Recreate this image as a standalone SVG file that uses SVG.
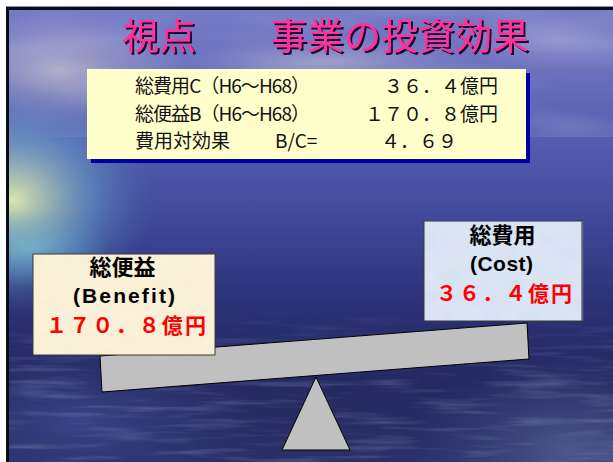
<svg xmlns="http://www.w3.org/2000/svg" width="613" height="462" viewBox="0 0 613 462">
  <defs>
    <style>
      .jp { font-family: "Noto Sans CJK JP", "Noto Sans", sans-serif; }
      .latin { font-family: "Liberation Sans", Arial, sans-serif; }
      .title { font-size: 37px; fill: #FF3399; }
      .row { font-size: 19px; fill: #111111; }
      .head { font-size: 22px; font-weight: bold; fill: #000000; }
      .sub { font-size: 21px; font-weight: bold; fill: #000000; }
      .amount { font-size: 21px; font-weight: bold; fill: #FF0000; }
      .plate { fill: #C0C0C0; stroke: #000000; stroke-width: 1; stroke-linejoin: round; }
    </style>

    <!-- sea and sky backdrop -->
    <linearGradient id="sky" x1="0" y1="10" x2="0" y2="462" gradientUnits="userSpaceOnUse">
      <stop offset="0" stop-color="#757AC4"/>
      <stop offset="0.12" stop-color="#6C72BE"/>
      <stop offset="0.32" stop-color="#5059AC"/>
      <stop offset="0.5" stop-color="#3B4494"/>
      <stop offset="0.66" stop-color="#2B3074"/>
      <stop offset="0.82" stop-color="#252962"/>
      <stop offset="1" stop-color="#2A3068"/>
    </linearGradient>
    <radialGradient id="glowLeft" cx="12" cy="200" r="170" gradientUnits="userSpaceOnUse" gradientTransform="translate(12 200) scale(0.85 0.7) translate(-12 -200)">
      <stop offset="0" stop-color="#E2EEB0" stop-opacity="0.95"/>
      <stop offset="0.25" stop-color="#B4D4B8" stop-opacity="0.75"/>
      <stop offset="0.55" stop-color="#70AECA" stop-opacity="0.5"/>
      <stop offset="1" stop-color="#4A70B0" stop-opacity="0"/>
    </radialGradient>
    <radialGradient id="glowTeal" cx="30" cy="248" r="80" gradientUnits="userSpaceOnUse" gradientTransform="translate(30 248) scale(1 0.5) translate(-30 -248)">
      <stop offset="0" stop-color="#78C4D8" stop-opacity="0.6"/>
      <stop offset="1" stop-color="#5A98C8" stop-opacity="0"/>
    </radialGradient>
    <radialGradient id="cloudA" cx="60" cy="70" r="130" gradientUnits="userSpaceOnUse" gradientTransform="translate(60 70) scale(1 0.45) translate(-60 -70)">
      <stop offset="0" stop-color="#C8C2CC" stop-opacity="0.75"/>
      <stop offset="1" stop-color="#9A9CC8" stop-opacity="0"/>
    </radialGradient>
    <radialGradient id="cloudB" cx="330" cy="62" r="150" gradientUnits="userSpaceOnUse" gradientTransform="translate(330 62) scale(1 0.18) translate(-330 -62)">
      <stop offset="0" stop-color="#B4B0D0" stop-opacity="0.7"/>
      <stop offset="1" stop-color="#9A9CC8" stop-opacity="0"/>
    </radialGradient>
    <radialGradient id="cloudC" cx="560" cy="40" r="110" gradientUnits="userSpaceOnUse" gradientTransform="translate(560 40) scale(1 0.3) translate(-560 -40)">
      <stop offset="0" stop-color="#A8A8D8" stop-opacity="0.55"/>
      <stop offset="1" stop-color="#9A9CC8" stop-opacity="0"/>
    </radialGradient>
    <radialGradient id="seaRight" cx="570" cy="450" r="160" gradientUnits="userSpaceOnUse" gradientTransform="translate(570 450) scale(1 0.6) translate(-570 -450)">
      <stop offset="0" stop-color="#6E78A8" stop-opacity="0.55"/>
      <stop offset="1" stop-color="#4A5590" stop-opacity="0"/>
    </radialGradient>
    <radialGradient id="seaLeft" cx="80" cy="420" r="170" gradientUnits="userSpaceOnUse" gradientTransform="translate(80 420) scale(1 0.45) translate(-80 -420)">
      <stop offset="0" stop-color="#4C5CA8" stop-opacity="0.5"/>
      <stop offset="1" stop-color="#3A4890" stop-opacity="0"/>
    </radialGradient>
    <linearGradient id="waveFade" x1="0" y1="300" x2="0" y2="462" gradientUnits="userSpaceOnUse">
      <stop offset="0" stop-color="#FFFFFF" stop-opacity="0"/>
      <stop offset="0.4" stop-color="#FFFFFF" stop-opacity="1"/>
      <stop offset="1" stop-color="#FFFFFF" stop-opacity="1"/>
    </linearGradient>
    <mask id="waveMask">
      <rect x="0" y="300" width="613" height="162" fill="url(#waveFade)"/>
    </mask>
    <filter id="waves" x="0" y="0" width="100%" height="100%">
      <feTurbulence type="fractalNoise" baseFrequency="0.012 0.16" numOctaves="3" seed="7"/>
      <feColorMatrix type="matrix" values="0 0 0 0 0.5  0 0 0 0 0.54  0 0 0 0 0.78  0 0 0 1.4 -0.68"/>
    </filter>
    <filter id="haze" x="0" y="0" width="100%" height="100%">
      <feTurbulence type="fractalNoise" baseFrequency="0.006 0.03" numOctaves="2" seed="3"/>
      <feColorMatrix type="matrix" values="0 0 0 0 0.78  0 0 0 0 0.78  0 0 0 0 0.9  0 0 0 0.9 -0.38"/>
    </filter>
    <filter id="paper" x="0" y="0" width="100%" height="100%">
      <feTurbulence type="fractalNoise" baseFrequency="0.09" numOctaves="2" seed="11"/>
      <feColorMatrix type="matrix" values="0 0 0 0 0.85  0 0 0 0 0.78  0 0 0 0 0.6  0 0 0 0.5 -0.18"/>
    </filter>
    <filter id="frost" x="0" y="0" width="100%" height="100%">
      <feTurbulence type="fractalNoise" baseFrequency="0.05" numOctaves="2" seed="5"/>
      <feColorMatrix type="matrix" values="0 0 0 0 0.9  0 0 0 0 0.86  0 0 0 0 0.96  0 0 0 0.5 -0.15"/>
    </filter>
    <filter id="titleShadow" x="-5%" y="-20%" width="110%" height="140%">
      <feDropShadow dx="2" dy="2" stdDeviation="0" flood-color="#1A0030" flood-opacity="1"/>
    </filter>
  </defs>

  <!-- page margin and slide frame -->
  <rect x="0" y="0" width="613" height="462" fill="#FFFFFF"/>
  <g id="backdrop">
    <rect x="6" y="7" width="607" height="455" fill="url(#sky)"/>
    <rect x="6" y="7" width="607" height="130" fill="#FFFFFF" opacity="0.5" filter="url(#haze)"/>
    <rect x="6" y="7" width="607" height="455" fill="url(#cloudA)"/>
    <rect x="6" y="7" width="607" height="455" fill="url(#cloudB)"/>
    <rect x="6" y="7" width="607" height="455" fill="url(#cloudC)"/>
    <rect x="6" y="7" width="607" height="455" fill="url(#glowLeft)"/>
    <rect x="6" y="7" width="607" height="455" fill="url(#glowTeal)"/>
    <rect x="6" y="7" width="607" height="455" fill="url(#seaLeft)"/>
    <rect x="6" y="7" width="607" height="455" fill="url(#seaRight)"/>
    <rect x="6" y="300" width="607" height="162" filter="url(#waves)" mask="url(#waveMask)" opacity="0.4"/>
    <!-- frame edges -->
    <rect x="6" y="6" width="607" height="1" fill="#8C8CC8"/>
    <rect x="6" y="7" width="607" height="3" fill="#0A0A14"/>
    <rect x="6" y="7" width="3" height="455" fill="#0A0A14"/>
  </g>

  <!-- heading -->
  <g id="title" class="jp">
    <text class="title" x="122" y="50" filter="url(#titleShadow)" xml:space="preserve">視点　　事業の投資効果</text>
  </g>

  <!-- cost / benefit summary -->
  <g id="summary-table" class="jp">
    <rect x="91" y="73" width="439" height="90" fill="#0000A0"/>
    <rect x="87" y="69" width="439" height="90" fill="#FFFFCC"/>
    <text class="row" x="135" y="93" textLength="175" lengthAdjust="spacing">総費用C（H6～H68）</text>
    <text class="row" x="384" y="93">３６．４億円</text>
    <text class="row" x="135" y="121" textLength="175" lengthAdjust="spacing">総便益B（H6～H68）</text>
    <text class="row" x="365" y="121">１７０．８億円</text>
    <text class="row" x="135" y="148">費用対効果</text>
    <text class="row" x="275" y="148">B/C=</text>
    <text class="row" x="381" y="148">４．６９</text>
  </g>

  <!-- balance beam -->
  <g id="beam">
    <polygon class="plate" points="100,356 527,323 529,359 102,392"/>
  </g>

  <!-- fulcrum -->
  <g id="fulcrum">
    <polygon class="plate" points="316,377 282,450 350,450"/>
  </g>

  <!-- benefit side -->
  <g id="benefit-box" class="jp">
    <rect x="33" y="254" width="182" height="101" fill="#FBF1D8" stroke="#3A3A3A" stroke-width="1"/>
    <rect x="34" y="255" width="180" height="99" filter="url(#paper)"/>
    <text class="head" x="122.5" y="275" text-anchor="middle">総便益</text>
    <text class="sub latin" x="73" y="303" textLength="102" lengthAdjust="spacing">(Benefit)</text>
    <text class="amount" x="46" y="333" textLength="160" lengthAdjust="spacing">１７０．８億円</text>
  </g>

  <!-- cost side -->
  <g id="cost-box" class="jp">
    <rect x="424" y="221" width="158" height="100" fill="#D6E2F2" stroke="#3A3A3A" stroke-width="1"/>
    <rect x="425" y="222" width="156" height="98" filter="url(#frost)"/>
    <line x1="582.5" y1="221" x2="582.5" y2="321" stroke="#606878" stroke-width="1.5"/>
    <text class="head" x="502.5" y="243" text-anchor="middle">総費用</text>
    <text class="sub latin" x="470" y="271" textLength="63" lengthAdjust="spacing">(Cost)</text>
    <text class="amount" x="436" y="301" textLength="136" lengthAdjust="spacing">３６．４億円</text>
  </g>
</svg>
